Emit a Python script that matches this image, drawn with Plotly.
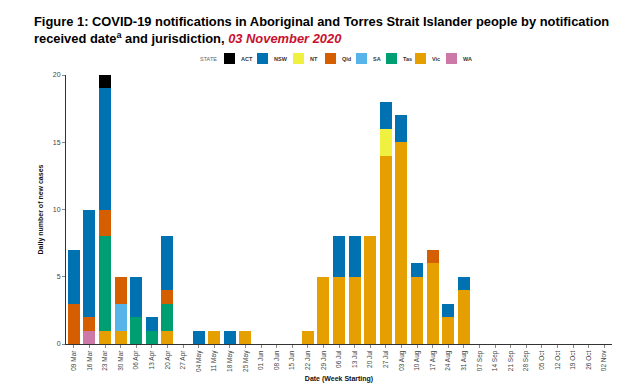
import plotly.graph_objects as go

weeks = ["09 Mar", "16 Mar", "23 Mar", "30 Mar", "06 Apr", "13 Apr", "20 Apr", "27 Apr",
         "04 May", "11 May", "18 May", "25 May", "01 Jun", "08 Jun", "15 Jun", "22 Jun",
         "29 Jun", "06 Jul", "13 Jul", "20 Jul", "27 Jul", "03 Aug", "10 Aug", "17 Aug",
         "24 Aug", "31 Aug", "07 Sep", "14 Sep", "21 Sep", "28 Sep", "05 Oct", "12 Oct",
         "19 Oct", "26 Oct", "02 Nov"]

ACT = [0, 0, 1, 0, 0, 0, 0, 0, 0, 0, 0, 0, 0, 0, 0, 0, 0, 0, 0, 0, 0, 0, 0, 0, 0, 0, 0, 0, 0, 0, 0, 0, 0, 0, 0]
NSW = [4, 8, 9, 0, 3, 1, 4, 0, 1, 0, 1, 0, 0, 0, 0, 0, 0, 3, 3, 0, 2, 2, 1, 0, 1, 1, 0, 0, 0, 0, 0, 0, 0, 0, 0]
NT  = [0, 0, 0, 0, 0, 0, 0, 0, 0, 0, 0, 0, 0, 0, 0, 0, 0, 0, 0, 0, 2, 0, 0, 0, 0, 0, 0, 0, 0, 0, 0, 0, 0, 0, 0]
Qld = [3, 1, 2, 2, 0, 0, 1, 0, 0, 0, 0, 0, 0, 0, 0, 0, 0, 0, 0, 0, 0, 0, 0, 1, 0, 0, 0, 0, 0, 0, 0, 0, 0, 0, 0]
SA  = [0, 0, 0, 2, 0, 0, 0, 0, 0, 0, 0, 0, 0, 0, 0, 0, 0, 0, 0, 0, 0, 0, 0, 0, 0, 0, 0, 0, 0, 0, 0, 0, 0, 0, 0]
Tas = [0, 0, 7, 0, 2, 1, 2, 0, 0, 0, 0, 0, 0, 0, 0, 0, 0, 0, 0, 0, 0, 0, 0, 0, 0, 0, 0, 0, 0, 0, 0, 0, 0, 0, 0]
Vic = [0, 0, 1, 1, 0, 0, 1, 0, 0, 1, 0, 1, 0, 0, 0, 1, 5, 5, 5, 8, 14, 15, 5, 6, 2, 4, 0, 0, 0, 0, 0, 0, 0, 0, 0]
WA  = [0, 1, 0, 0, 0, 0, 0, 0, 0, 0, 0, 0, 0, 0, 0, 0, 0, 0, 0, 0, 0, 0, 0, 0, 0, 0, 0, 0, 0, 0, 0, 0, 0, 0, 0]

states = ["ACT", "NSW", "NT", "Qld", "SA", "Tas", "Vic", "WA"]
values = {"ACT": ACT, "NSW": NSW, "NT": NT, "Qld": Qld, "SA": SA, "Tas": Tas, "Vic": Vic, "WA": WA}
colors = {"ACT": "#000000", "NSW": "#0072B2", "NT": "#F0F040", "Qld": "#D55E00",
          "SA": "#56B4E9", "Tas": "#009E73", "Vic": "#E69F00", "WA": "#CC79A7"}

# the page body adds an 8px offset; size the figure so it ends at the window edge
OFF = 8
W, H = 638 - OFF, 383 - OFF
L, R, T, B = 66 - OFF, 26, 75 - OFF, 39
PW, PH = W - L - R, H - T - B


def px(x):  # window pixel x -> paper coordinate
    return (x - OFF - L) / PW


def py(y):  # window pixel y -> paper coordinate
    return (H - B - (y - OFF)) / PH


fig = go.Figure()
# stacked bottom-to-top: WA, Vic, Tas, SA, Qld, NT, NSW, ACT
for s in reversed(states):
    fig.add_trace(go.Bar(x=weeks, y=values[s], name=s, marker_color=colors[s],
                         marker_line_width=0))

title_font = dict(family="Liberation Sans, Arial", size=12.9, color="#000", weight="bold")
annotations = [
    dict(text="Figure 1: COVID-19 notifications in Aboriginal and Torres Strait Islander people by notification",
         x=px(32), y=py(22), xref="paper", yref="paper", xanchor="left", yanchor="middle",
         showarrow=False, font=title_font),
    dict(text="received date<sup>a</sup> and jurisdiction, <i><span style='color:#C8102E'>03 November 2020</span></i>",
         x=px(32), y=py(38), xref="paper", yref="paper", xanchor="left", yanchor="middle",
         showarrow=False, font=title_font),
    dict(text="STATE", x=px(198), y=py(58.5), xref="paper", yref="paper", xanchor="left", yanchor="middle",
         showarrow=False, font=dict(size=5.5, color="#666")),
]
shapes = []
sq_left = [224, 257, 293, 325, 356, 386, 415, 446]
for s, xl in zip(states, sq_left):
    shapes.append(dict(type="rect", xref="paper", yref="paper",
                       x0=px(xl), x1=px(xl + 11), y0=py(64), y1=py(53),
                       fillcolor=colors[s], line_width=0))
    annotations.append(dict(text="<b>" + s + "</b>", x=px(xl + 15), y=py(58.5), xref="paper", yref="paper",
                            xanchor="left", yanchor="middle", showarrow=False,
                            font=dict(size=5.5, color="#333")))

fig.update_layout(
    width=W, height=H,
    barmode="stack", bargap=0.22,
    plot_bgcolor="white", paper_bgcolor="white",
    margin=dict(l=L, r=R, t=T, b=B, autoexpand=False),
    font=dict(family="Liberation Sans, Arial, sans-serif", size=7, color="#333"),
    showlegend=False,
    annotations=annotations,
    shapes=shapes,
)
fig.update_xaxes(type="category", showline=True, linecolor="#333", linewidth=1,
                 ticks="outside", ticklen=3, tickcolor="#888", tickangle=-90,
                 tickfont=dict(size=6.5, color="#444"), showgrid=False,
                 title=dict(text="<b>Date (Week Starting)</b>", font=dict(size=7, color="#111"), standoff=5))
fig.update_yaxes(range=[0, 20], tickvals=[0, 5, 10, 15, 20], showline=True, linecolor="#333",
                 linewidth=1, ticks="outside", ticklen=3, tickcolor="#888", showgrid=False,
                 zeroline=False, tickfont=dict(size=7, color="#444"),
                 title=dict(text="<b>Daily number of new cases</b>", font=dict(size=7, color="#111"), standoff=8))

fig.write_html("out.html")
